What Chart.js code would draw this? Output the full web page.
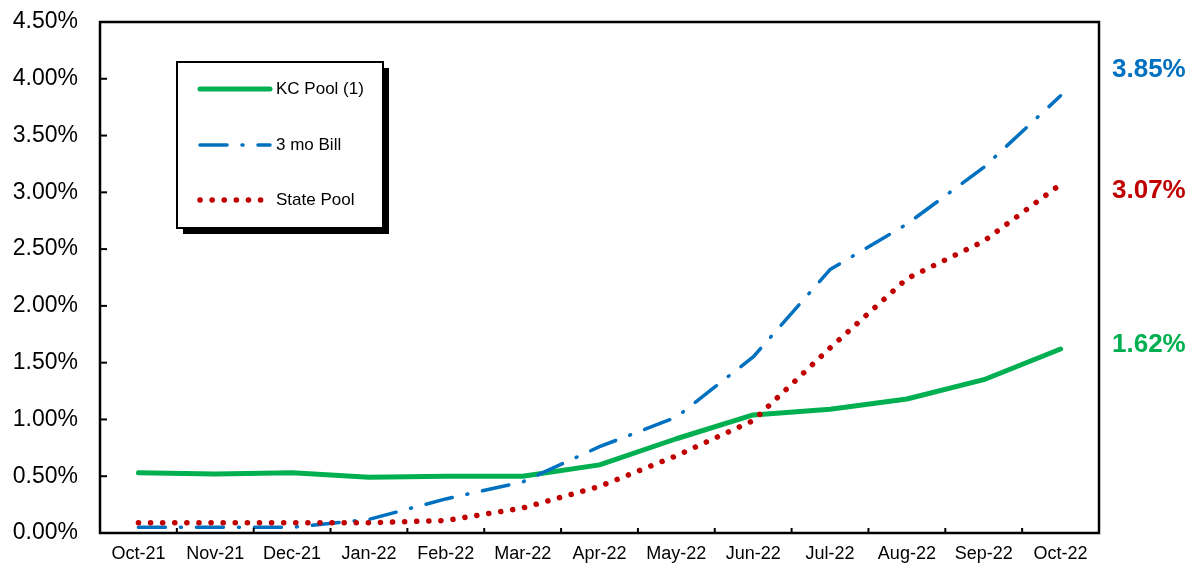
<!DOCTYPE html>
<html><head><meta charset="utf-8">
<style>html,body{margin:0;padding:0;background:#fff;overflow:hidden;}</style>
<script src="https://cdn.jsdelivr.net/npm/chart.js@4.4.0/dist/chart.umd.min.js"></script>
</head><body>
<canvas id="c" width="1187" height="567" style="width:1187px;height:567px;display:block"></canvas>
<script>
const categories = ['Oct-21','Nov-21','Dec-21','Jan-22','Feb-22','Mar-22','Apr-22','May-22','Jun-22','Jul-22','Aug-22','Sep-22','Oct-22'];
const kcPool    = [0.53,0.52,0.53,0.49,0.50,0.50,0.60,0.83,1.04,1.09,1.18,1.35,1.62];
const billRate  = [0.05,0.05,0.05,0.12,0.30,0.45,0.76,1.02,1.55,2.32,2.72,3.22,3.85];
const statePool = [0.09,0.09,0.09,0.09,0.11,0.22,0.41,0.68,0.99,1.63,2.24,2.57,3.07];
const seriesNames = ['KC Pool (1)','3 mo Bill','State Pool'];
const yMin = 0, yMax = 4.5, yStep = 0.5;

Chart.defaults.font.family = '"Liberation Sans", Arial, sans-serif';
Chart.defaults.color = '#000';

const framePlugin = {
  id: 'frame',
  afterDatasetsDraw(chart) {
    const ctx = chart.ctx, a = chart.chartArea;
    const xs = chart.scales.x, ys = chart.scales.y;
    ctx.save();
    ctx.strokeStyle = '#000';
    ctx.lineWidth = 2.5;
    ctx.strokeRect(a.left, a.top, a.right - a.left, a.bottom - a.top);
    ctx.lineWidth = 2;
    ys.ticks.forEach(t => {
      const y = ys.getPixelForValue(t.value);
      ctx.beginPath(); ctx.moveTo(a.left, y); ctx.lineTo(a.left + 7, y); ctx.stroke();
    });
    for (let i = 1; i < categories.length; i++) {
      const x = (xs.getPixelForValue(i - 1) + xs.getPixelForValue(i)) / 2;
      ctx.beginPath(); ctx.moveTo(x, a.bottom); ctx.lineTo(x, a.bottom - 5); ctx.stroke();
    }
    const offsets = [-4, -26, 6.5];
    ctx.font = 'bold 26px "Liberation Sans", Arial, sans-serif';
    ctx.textAlign = 'left'; ctx.textBaseline = 'middle';
    chart.data.datasets.forEach((ds, i) => {
      const v = ds.data[ds.data.length - 1];
      ctx.fillStyle = ds.borderColor;
      ctx.fillText(v.toFixed(2) + '%', a.right + 13, ys.getPixelForValue(v) + offsets[i]);
    });
    const bx = a.left + 77, by = a.top + 40, bw = 206, bh = 166;
    ctx.fillStyle = '#000';
    ctx.fillRect(bx + 6, by + 6, bw, bh);
    ctx.fillStyle = '#fff';
    ctx.fillRect(bx, by, bw, bh);
    ctx.strokeStyle = '#000'; ctx.lineWidth = 2;
    ctx.strokeRect(bx, by, bw, bh);
    const rows = [27, 83, 138];
    ctx.font = '17px "Liberation Sans", Arial, sans-serif';
    chart.data.datasets.forEach((ds, i) => {
      const y = by + rows[i];
      ctx.save();
      ctx.strokeStyle = ds.borderColor;
      ctx.lineWidth = ds.borderWidth;
      ctx.lineCap = 'round';
      ctx.setLineDash(ds.borderDash || []);
      ctx.beginPath(); ctx.moveTo(bx + 23, y); ctx.lineTo(bx + 93, y); ctx.stroke();
      ctx.restore();
      ctx.fillStyle = '#000';
      ctx.textAlign = 'left'; ctx.textBaseline = 'middle';
      ctx.fillText(ds.label, bx + 99, y);
    });
    ctx.restore();
  }
};

new Chart(document.getElementById('c'), {
  type: 'line',
  data: {
    labels: categories,
    datasets: [
      { label: seriesNames[0], data: kcPool, borderColor: '#00B050', borderWidth: 5, pointRadius: 0, tension: 0, borderCapStyle: 'round', borderJoinStyle: 'round', fill: false, order: 3 },
      { label: seriesNames[1], data: billRate, borderColor: '#0070C0', borderWidth: 3.5, borderDash: [27, 15, 1, 15], pointRadius: 0, tension: 0, borderCapStyle: 'round', borderJoinStyle: 'round', fill: false, order: 2 },
      { label: seriesNames[2], data: statePool, borderColor: '#C00000', borderWidth: 5.5, borderDash: [0.1, 12], pointRadius: 0, tension: 0, borderCapStyle: 'round', borderJoinStyle: 'round', fill: false, order: 1 }
    ]
  },
  options: {
    responsive: false,
    animation: false,
    devicePixelRatio: 1,
    layout: { padding: { left: 0, right: 88, top: 22, bottom: 0 } },
    plugins: { legend: { display: false }, tooltip: { enabled: false } },
    scales: {
      x: {
        type: 'category', offset: true,
        grid: { display: false }, border: { display: false },
        ticks: { font: { size: 18 }, color: '#000', padding: 2, maxRotation: 0, autoSkip: false },
        afterFit(s) { s.height = 34; s.paddingLeft = 0; s.paddingRight = 0; }
      },
      y: {
        min: yMin, max: yMax,
        grid: { display: false }, border: { display: false },
        ticks: { stepSize: yStep, font: { size: 23 }, color: '#000', padding: 14, callback: v => v.toFixed(2) + '%' },
        afterFit(s) { s.width = 100; s.paddingTop = 0; s.paddingBottom = 0; }
      }
    }
  },
  plugins: [framePlugin]
});
</script>
</body></html>
